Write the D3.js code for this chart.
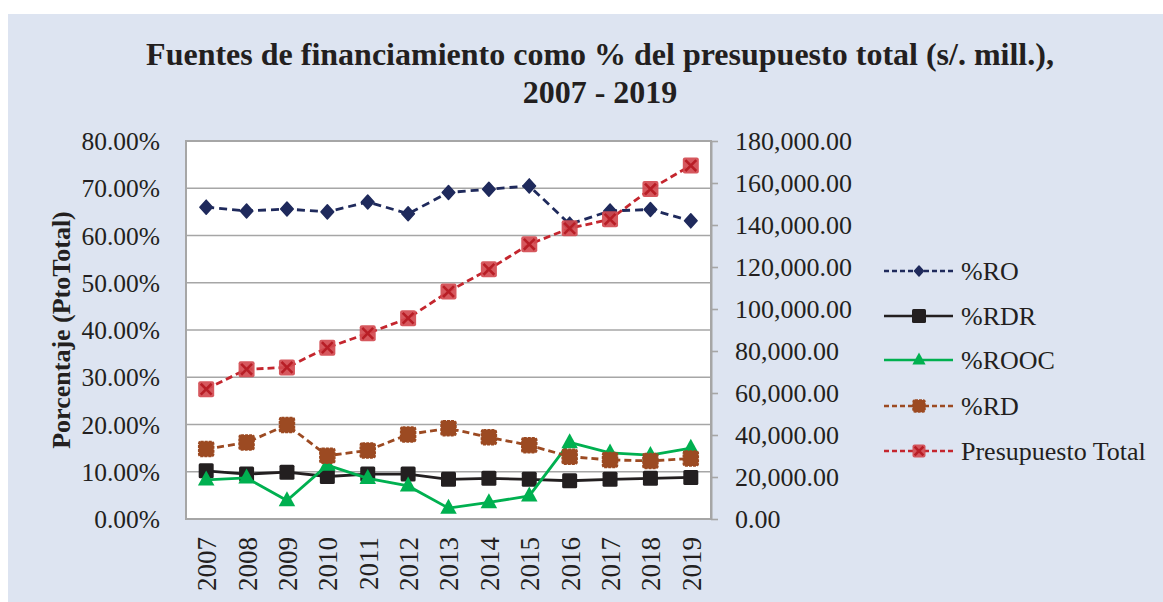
<!DOCTYPE html>
<html>
<head>
<meta charset="utf-8">
<script src="https://cdn.jsdelivr.net/npm/d3@7"></script>
<style>
  body { margin: 0; background: #fff; }
  text { font-family: "Liberation Serif", "Times New Roman", serif; fill: #231f20; }
</style>
</head>
<body>
<svg id="chart" width="1163" height="602"></svg>
<script>
// data
var years = ["2007","2008","2009","2010","2011","2012","2013","2014","2015","2016","2017","2018","2019"];
var pctRO   = [66.0, 65.2, 65.6, 65.0, 67.1, 64.6, 69.1, 69.8, 70.5, 62.4, 65.2, 65.5, 63.1];
var pctRDR  = [10.2, 9.5, 9.9, 9.0, 9.5, 9.5, 8.4, 8.6, 8.4, 8.1, 8.4, 8.6, 8.8];
var pctROOC = [8.3, 8.7, 3.9, 11.4, 8.6, 7.0, 2.3, 3.5, 4.9, 16.2, 14.0, 13.5, 15.0];
var pctRD   = [14.8, 16.2, 19.9, 13.4, 14.5, 17.9, 19.2, 17.3, 15.6, 13.2, 12.5, 12.3, 12.8];
var presTotal = [61800, 71300, 72200, 81600, 88400, 95600, 108300, 118900, 130800, 138400, 142700, 157100, 168300];
var leftTicks = [0, 10, 20, 30, 40, 50, 60, 70, 80];
var rightTicks = [0, 20000, 40000, 60000, 80000, 100000, 120000, 140000, 160000, 180000];

var series = [
  {name: "%RO", values: pctRO, axis: "L", color: "#1f2a5c", dash: "8,5", marker: "diamond"},
  {name: "%RDR", values: pctRDR, axis: "L", color: "#231f20", dash: null, marker: "square"},
  {name: "%ROOC", values: pctROOC, axis: "L", color: "#00b050", dash: null, marker: "triangle"},
  {name: "%RD", values: pctRD, axis: "L", color: "#9c4a22", dash: "7,4", marker: "squareRD"},
  {name: "Presupuesto Total", values: presTotal, axis: "R", color: "#c4262e", dash: "7,4", marker: "cross"}
];

var svg = d3.select("#chart");
var plotL = 186, plotR = 711, plotT = 141, plotB = 519;

svg.append("rect").attr("x", 8).attr("y", 14).attr("width", 1155).attr("height", 588)
  .attr("fill", "#dde4f1");

var x = d3.scalePoint().domain(years).range([plotL, plotR]).padding(0.5);
var yL = d3.scaleLinear().domain([0, 80]).range([plotB, plotT]);
var yR = d3.scaleLinear().domain([0, 180000]).range([plotB, plotT]);

// title
svg.append("text").attr("x", 600).attr("y", 65).attr("text-anchor", "middle")
  .attr("font-size", 32).attr("font-weight", "bold")
  .text("Fuentes de financiamiento como % del presupuesto total (s/. mill.),");
svg.append("text").attr("x", 600).attr("y", 103).attr("text-anchor", "middle")
  .attr("font-size", 32).attr("font-weight", "bold")
  .text("2007 - 2019");

// plot area + grid
svg.append("rect").attr("x", plotL).attr("y", plotT).attr("width", plotR - plotL).attr("height", plotB - plotT)
  .attr("fill", "#fff");
svg.append("g").selectAll("line").data(leftTicks).enter().append("line")
  .attr("x1", plotL).attr("x2", plotR)
  .attr("y1", function(d) { return yL(d); }).attr("y2", function(d) { return yL(d); })
  .attr("stroke", "#a6a6a6").attr("stroke-width", 1.6);
svg.append("rect").attr("x", plotL).attr("y", plotT).attr("width", plotR - plotL).attr("height", plotB - plotT)
  .attr("fill", "none").attr("stroke", "#a6a6a6").attr("stroke-width", 2);

// left axis
var axL = svg.append("g").attr("transform", "translate(" + plotL + ",0)")
  .call(d3.axisLeft(yL).tickValues(leftTicks).tickSize(0).tickPadding(26)
    .tickFormat(function(d) { return d.toFixed(2) + "%"; }));
axL.select(".domain").remove();
axL.selectAll("text").attr("font-size", 25.5).attr("dy", "0.34em")
  .style("font-family", "Liberation Serif").attr("fill", "#231f20");

// right axis
var axR = svg.append("g").attr("transform", "translate(" + plotR + ",0)")
  .call(d3.axisRight(yR).tickValues(rightTicks).tickSizeOuter(0).tickSizeInner(7).tickPadding(17)
    .tickFormat(d3.format(",.2f")));
axR.select(".domain").attr("stroke", "#a6a6a6").attr("stroke-width", 2);
axR.selectAll("line").attr("stroke", "#a6a6a6").attr("stroke-width", 1.6);
axR.selectAll("text").attr("font-size", 26).attr("dy", "0.34em")
  .style("font-family", "Liberation Serif").attr("fill", "#231f20");

// x labels
var axX = svg.append("g").attr("transform", "translate(0," + plotB + ")")
  .call(d3.axisBottom(x).tickSize(0));
axX.select(".domain").remove();
axX.selectAll("text").attr("font-size", 27).style("font-family", "Liberation Serif").attr("fill", "#231f20")
  .attr("text-anchor", "end").attr("dy", "0.35em")
  .attr("transform", "translate(0,18) rotate(-90)").attr("y", 0).attr("x", 0);

// y title
svg.append("text").attr("transform", "translate(70,330) rotate(-90)")
  .attr("text-anchor", "middle").attr("font-size", 26).attr("font-weight", "bold")
  .text("Porcentaje (PtoTotal)");

function drawMarker(g, type, color, s) {
  if (type === "diamond") {
    var w = s * 0.45, hh = s * 0.5;
    g.append("path").attr("d", "M0," + (-hh) + "L" + w + ",0L0," + hh + "L" + (-w) + ",0Z")
      .attr("fill", color).attr("stroke", color).attr("stroke-width", 1.5).attr("stroke-linejoin", "round");
  } else if (type === "square") {
    g.append("rect").attr("x", -s / 2).attr("y", -s / 2).attr("width", s).attr("height", s)
      .attr("rx", 1.5).attr("fill", color);
  } else if (type === "squareRD") {
    g.append("rect").attr("x", -s / 2).attr("y", -s / 2).attr("width", s).attr("height", s)
      .attr("rx", 2).attr("fill", color).attr("stroke", color).attr("stroke-width", 1.5)
      .attr("stroke-dasharray", "3,1");
  } else if (type === "triangle") {
    g.append("path").attr("d", "M0," + (-s * 0.62) + "L" + (s * 0.55) + "," + (s * 0.38) + "L" + (-s * 0.55) + "," + (s * 0.38) + "Z")
      .attr("fill", color);
  } else if (type === "cross") {
    g.append("rect").attr("x", -s / 2).attr("y", -s / 2).attr("width", s).attr("height", s)
      .attr("rx", 2).attr("fill", "#d24a50").attr("opacity", 0.92);
    var h = s * 0.34;
    g.append("path").attr("d", "M" + (-h) + "," + (-h) + "L" + h + "," + h + "M" + h + "," + (-h) + "L" + (-h) + "," + h)
      .attr("stroke", "#b81e26").attr("stroke-width", 2.6);
  }
}

// series
series.forEach(function(s) {
  var yS = s.axis === "L" ? yL : yR;
  var line = d3.line()
    .x(function(d, i) { return x(years[i]); })
    .y(function(d) { return yS(d); });
  var g = svg.append("g");
  g.append("path").datum(s.values).attr("d", line)
    .attr("fill", "none").attr("stroke", s.color).attr("stroke-width", 2.8)
    .attr("stroke-dasharray", s.dash);
  var size = s.marker === "cross" ? 16 : (s.marker === "diamond" ? 14 : 15);
  s.values.forEach(function(v, i) {
    var m = g.append("g").attr("transform", "translate(" + x(years[i]) + "," + yS(v) + ")");
    drawMarker(m, s.marker, s.color, size);
  });
});

// legend
var legY = [271, 316, 360, 406, 451];
series.forEach(function(s, i) {
  var g = svg.append("g").attr("transform", "translate(884," + legY[i] + ")");
  g.append("line").attr("x1", 0).attr("x2", 69).attr("y1", 0).attr("y2", 0)
    .attr("stroke", s.color).attr("stroke-width", 2.4).attr("stroke-dasharray", s.dash ? "5,3" : null);
  var m = g.append("g").attr("transform", "translate(35,0)");
  var ls = {diamond: 10, square: 14, triangle: 12, squareRD: 12, cross: 13}[s.marker];
  drawMarker(m, s.marker, s.color, ls);
  g.append("text").attr("x", 77).attr("y", 0).attr("dy", "0.34em").attr("font-size", 26).text(s.name);
});
</script>
</body>
</html>
